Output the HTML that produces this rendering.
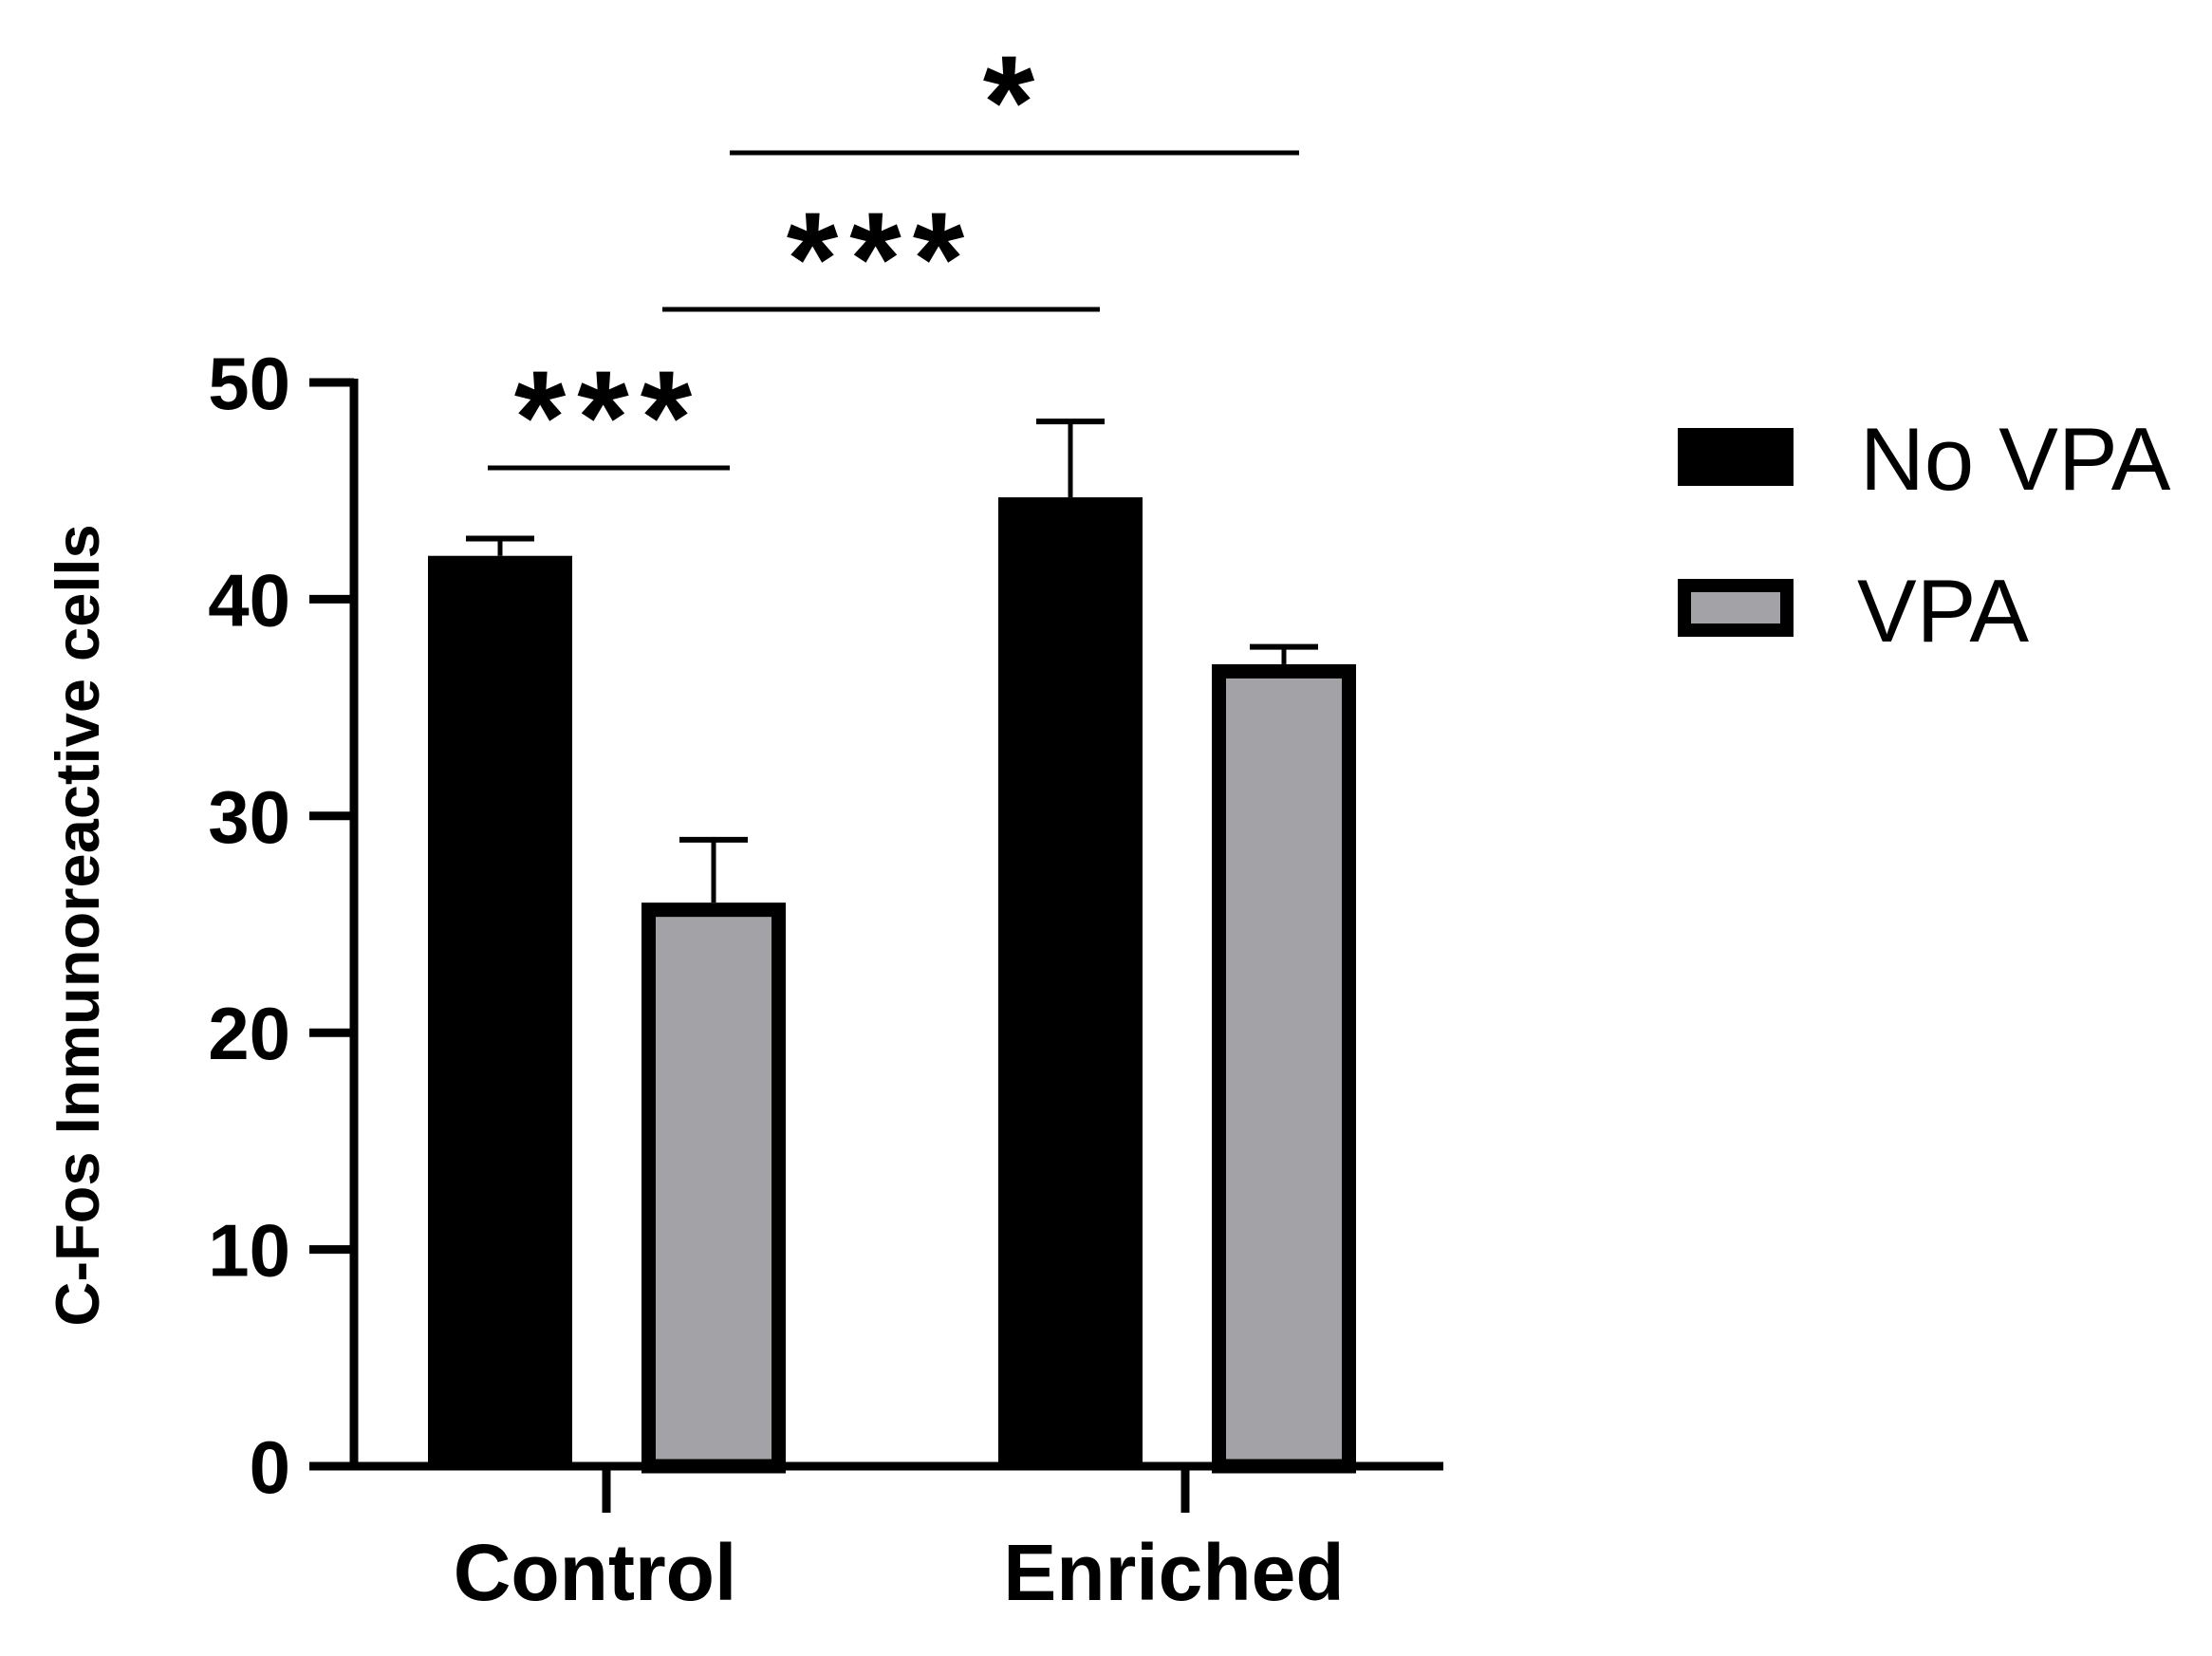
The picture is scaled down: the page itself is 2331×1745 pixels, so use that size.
<!DOCTYPE html>
<html><head><meta charset="utf-8"><style>
html,body{margin:0;padding:0;background:#fff;}
svg{display:block;}
text{font-family:"Liberation Sans",Arial,sans-serif;}
</style></head><body>
<svg id="chart" width="2331" height="1745" viewBox="0 0 2331 1745">
<g id="axes"></g><g id="bars"></g><g id="sig"></g><g id="legend"></g>
</svg>
<script>
const categories = ["Control", "Enriched"];
const noVpaValues = [42, 44.7];
const noVpaErrors = [0.8, 3.5];
const vpaValues = [26, 37];
const vpaErrors = [2.9, 0.8];
const yTicks = [0, 10, 20, 30, 40, 50];
const sigLabels = ["***", "***", "*"];

const NS = "http://www.w3.org/2000/svg";
function mk(tag, attrs, parent, txt){
  const e = document.createElementNS(NS, tag);
  for (const k in attrs) e.setAttribute(k, attrs[k]);
  if (txt !== undefined) e.textContent = txt;
  parent.appendChild(e);
  return e;
}
const y0 = 1545, y50 = 403;
function yS(v){ return y0 - (v/50)*(y0-y50); }
const catX = [639, 1249];
const barOffsets = [[-188, 37], [-197, 28]];
function barX(ci, s){ return catX[ci] + barOffsets[ci][s]; }
const barW = 152;

const axes = document.getElementById('axes');
const bars = document.getElementById('bars');
const sig = document.getElementById('sig');
const legend = document.getElementById('legend');

let el = mk('line',{x1:373,y1:y50-4,x2:373,y2:y0+4,stroke:'#000','stroke-width':9},axes);


yTicks.forEach(t=>{
  const tk = mk('line',{x1:326,y1:yS(t),x2:373,y2:yS(t),stroke:'#000','stroke-width':9},axes);
  
  
  const lb = mk('text',{x:306,y:yS(t)+28,'text-anchor':'end','font-size':78,'font-weight':'bold'},axes,String(t));
  
  
});
el = mk('line',{x1:326,y1:y0,x2:1521,y2:y0,stroke:'#000','stroke-width':9},axes);


categories.forEach((c,i)=>{
  const tk = mk('line',{x1:catX[i],y1:y0,x2:catX[i],y2:1594,stroke:'#000','stroke-width':9},axes);
  
  
  const lb = mk('text',{x:catX[i]-12,y:1686,'text-anchor':'middle','font-size':84,'font-weight':'bold'},axes,c);
  
  
});
el = mk('text',{x:0,y:0,transform:'translate(104,975) rotate(-90)','text-anchor':'middle','font-size':65,'font-weight':'bold'},axes,'C-Fos Inmunoreactive cells');



function drawBar(ci, s, v, err){
  const x = barX(ci,s), top = yS(v);
  const ex = x + barW/2;
  const eb = mk('line',{x1:ex,y1:top,x2:ex,y2:yS(v+err),stroke:'#000','stroke-width':5},bars);
  
  
  const cap = mk('line',{x1:ex-36,y1:yS(v+err),x2:ex+36,y2:yS(v+err),stroke:'#000','stroke-width':6},bars);
  
  
  let r;
  if (s===0){
    r = mk('rect',{x:x,y:top,width:barW,height:y0-top,fill:'#000'},bars);
    
  } else {
    r = mk('rect',{x:x+7.5,y:top+7.5,width:barW-15,height:y0-top-7.5,fill:'#a3a2a6',stroke:'#000','stroke-width':15},bars);
    
  }
  
}
categories.forEach((c,i)=>{
  drawBar(i,0,noVpaValues[i],noVpaErrors[i]);
  drawBar(i,1,vpaValues[i],vpaErrors[i]);
});

const sigLines = [[514,769,493],[698,1159,326],[769,1369,161]];
sigLines.forEach((l,i)=>{
  const ln = mk('line',{x1:l[0],y1:l[2],x2:l[1],y2:l[2],stroke:'#000','stroke-width':5},sig);
  
  
  const t = mk('text',{x:(l[0]+l[1])/2,y:l[2]-5,'text-anchor':'middle','font-size':140,'font-weight':'bold','letter-spacing':12},sig,sigLabels[i]);
  
  
});

el = mk('rect',{x:1778-10,y:451,width:122,height:61,fill:'#000'},legend);


el = mk('text',{x:1960,y:516,'font-size':94},legend,'No VPA');


el = mk('rect',{x:1775,y:617,width:108,height:47,fill:'#a3a2a6',stroke:'#000','stroke-width':14},legend);


el = mk('text',{x:1957,y:676,'font-size':94},legend,'VPA');


</script>
</body></html>
